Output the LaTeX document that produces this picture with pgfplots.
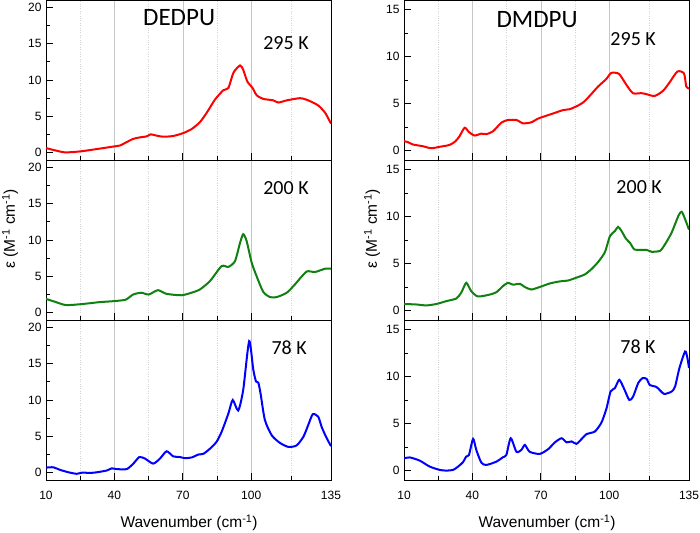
\documentclass[border=0pt]{standalone}
\usepackage{fontspec}
\setmainfont{Liberation Sans}
\newfontfamily\calfont{Carlito}
\usepackage{pgfplots}
\pgfplotsset{compat=1.18}
\definecolor{cred}{RGB}{255,0,0}
\definecolor{cgreen}{RGB}{16,128,16}
\definecolor{cblue}{RGB}{0,0,255}
\tikzset{
  temp/.style={font=\calfont\fontsize{20}{22}\selectfont},
  ttl/.style={font=\calfont\fontsize{25}{28}\selectfont},
}
\pgfplotsset{
  panel/.style={
    scale only axis, width=285pt, height=160pt, anchor=south west,
    xmin=10, xmax=135,
    xtick={10,40,70,100,135},
    minor xtick={25,55,85,117.5},
    xmajorgrids, xminorgrids,
    major grid style={gray!45, line width=0.6pt},
    minor grid style={gray!35, dotted, line width=0.6pt},
    tick align=inside,
    xtick pos=left, ytick pos=left,
    major tick length=7pt, minor tick length=4pt,
    tick style={black, line width=0.7pt},
    axis line style={line width=0.8pt},
    ymin=-1,
    /pgf/number format/assume math mode=true,
    tick label style={font=\fontsize{12}{14}\selectfont},
    xticklabel style={yshift=-8pt},
    yticklabel style={xshift=-1pt},
    label style={font=\fontsize{15.5}{17}\selectfont},
    xlabel style={at={(axis description cs:0.502,-0.27)}, anchor=center},
    every axis plot/.append style={line width=2pt, smooth, tension=0.4},
  },
  L/.style={panel, ymax=21, ytick={0,5,10,15,20}, minor ytick={2.5,7.5,12.5,17.5}},
  R/.style={panel, ymax=16, ytick={0,5,10,15}, minor ytick={2.5,7.5,12.5}},
}
\begin{document}
\begin{tikzpicture}
\useasboundingbox (0pt,0pt) rectangle (700pt,532pt);
% ---------------- DEDPU 295 K
\begin{axis}[L, at={(46pt,372pt)}, xticklabels={}]
\addplot[cred] coordinates {
(10,0.65)(13,0.4)(18.3,0.05)(25,0.18)(32.2,0.5)(40,0.87)(42.5,1.0)(45,1.4)(48.2,1.9)(51,2.1)(54.2,2.25)(55.9,2.53)(58.5,2.35)(61.4,2.2)(65.8,2.3)(70.2,2.7)(73.9,3.26)(77.5,4.2)(80.5,5.5)(84.1,7.3)(87.8,8.6)(90,8.9)(92.2,11)(95.1,12.0)(96.5,11.4)(98.3,9.8)(100.6,8.9)(102.4,7.9)(105.3,7.4)(109.7,7.2)(111.9,6.9)(115.6,7.2)(121.4,7.5)(125,7.2)(129.4,6.5)(132.4,5.5)(134,4.6)(135,4.0)};
\node[ttl] at (axis description cs:0.467,0.8875) {DEDPU};
\node[temp] at (axis description cs:0.842,0.731) {295 K};
\end{axis}
% ---------------- DEDPU 200 K
\begin{axis}[L, at={(46pt,212pt)}, xticklabels={}, ylabel={ε (M\textsuperscript{-1} cm\textsuperscript{-1})},
  ylabel style={at={(axis description cs:-0.126,0.57)}, anchor=center, rotate=0}]
\addplot[cgreen] coordinates {
(10,1.9)(14,1.5)(18.8,1.05)(26.1,1.2)(33.3,1.45)(40,1.6)(45,1.8)(48.2,2.5)(51.8,2.75)(55,2.5)(59.1,3.1)(62.8,2.6)(69.4,2.4)(73.8,2.75)(77.5,3.2)(81.9,4.35)(87,6.4)(90,6.3)(92.9,7.1)(95.1,9.6)(96.5,10.8)(98,9.85)(100.2,6.9)(102.4,5.0)(105.3,2.85)(108.3,2.15)(111.2,2.15)(115.6,2.75)(119.2,3.9)(122.2,5.0)(124.6,5.7)(128,5.6)(132.4,6.05)(135,6.05)};
\node[temp] at (axis description cs:0.842,0.825) {200 K};
\end{axis}
% ---------------- DEDPU 78 K
\begin{axis}[L, at={(46pt,52pt)}, xlabel={Wavenumber (cm\textsuperscript{-1})}]
\addplot[cblue] coordinates {
(10,0.7)(13.2,0.75)(16.1,0.4)(20,0.05)(23.5,-0.15)(25.7,0)(30.8,0.0)(36.6,0.3)(38.8,0.6)(41,0.5)(45.4,0.5)(48.3,1.25)(50.9,2.15)(53.4,1.95)(57,1.25)(60,1.95)(62.9,2.95)(65.8,2.25)(68.8,2.15)(71,2.0)(73.9,2.1)(76.8,2.5)(79,2.6)(81.9,3.3)(84.8,4.25)(87,5.6)(90,8.15)(91.9,10.0)(94.3,8.55)(96.5,11.4)(99.1,18.1)(100.9,14.2)(102.1,12.55)(103.1,12.4)(104.1,10.9)(106,7.25)(109,5.15)(112.6,4.1)(116.3,3.55)(119.9,3.75)(122.9,4.95)(125,6.55)(127,8.05)(129.4,7.7)(130.9,6.3)(132.8,4.95)(135,3.65)};
\node[temp] at (axis description cs:0.853,0.825) {78 K};
\end{axis}
% ---------------- DMDPU 295 K
\begin{axis}[R, at={(404pt,372pt)}, xticklabels={}]
\addplot[cred] coordinates {
(10,1.0)(11.7,0.9)(13.9,0.65)(18.3,0.46)(21.9,0.25)(25.6,0.4)(30,0.6)(32.6,1.0)(34.4,1.55)(36.6,2.43)(38.5,1.96)(41,1.6)(43.9,1.8)(46.1,1.75)(49,2.04)(52.7,2.97)(55.6,3.25)(59.3,3.25)(62.2,2.9)(65.8,3.0)(68.8,3.4)(72.4,3.7)(76.1,4.0)(79.7,4.3)(82.7,4.4)(85.6,4.7)(88.5,5.1)(91.4,5.8)(95.1,6.8)(98.7,7.6)(100.9,8.25)(104.3,8.15)(107.5,7.0)(110.4,6.1)(114.1,6.1)(116.3,6.0)(119.9,5.8)(123.6,6.35)(126.5,7.25)(129.9,8.4)(132.8,8.2)(133.8,6.8)(135,6.6)};
\node[ttl] at (axis description cs:0.467,0.88) {DMDPU};
\node[temp] at (axis description cs:0.804,0.756) {295 K};
\end{axis}
% ---------------- DMDPU 200 K
\begin{axis}[R, at={(404pt,212pt)}, xticklabels={}, ylabel={ε (M\textsuperscript{-1} cm\textsuperscript{-1})},
  ylabel style={at={(axis description cs:-0.112,0.57)}, anchor=center, rotate=0}]
\addplot[cgreen] coordinates {
(10,0.7)(15.4,0.65)(19.8,0.55)(24.2,0.7)(28.5,1.0)(32.9,1.28)(35.1,1.9)(37.3,2.95)(39.5,2.06)(42.4,1.5)(47.6,1.7)(50.5,1.95)(53.4,2.6)(55.6,2.95)(57.8,2.75)(60.8,2.85)(63,2.5)(65.8,2.24)(69.5,2.5)(73.9,2.88)(78.3,3.1)(82,3.2)(85.6,3.5)(89.3,3.84)(92.2,4.4)(95.1,5.15)(98.1,6.2)(100.3,7.9)(102.5,8.46)(103.9,8.9)(105.4,8.46)(107.3,7.65)(109.1,7.2)(111,6.5)(113.5,6.45)(116.4,6.45)(118.6,6.25)(122.3,6.35)(124.5,7.05)(127.4,8.3)(130.4,10.1)(131.8,10.5)(133.3,9.7)(135,8.6)};
\node[temp] at (axis description cs:0.825,0.83) {200 K};
\end{axis}
% ---------------- DMDPU 78 K
\begin{axis}[R, at={(404pt,52pt)}, xlabel={Wavenumber (cm\textsuperscript{-1})}]
\addplot[cblue] coordinates {
(10,1.3)(12.5,1.4)(16.9,1.06)(21.3,0.42)(25.7,0.07)(28.6,0)(31.5,0.07)(33.7,0.42)(35.9,0.9)(37.3,1.5)(38.5,1.67)(40.3,3.37)(41.7,2.2)(43.9,0.85)(46.1,0.6)(50.5,0.95)(53.4,1.42)(54.9,1.67)(56.8,3.44)(59.3,2.0)(61.5,2.2)(63,2.73)(65.1,2.0)(69.5,1.77)(73.2,2.27)(76.1,2.98)(79.1,3.44)(81.3,3.0)(83.5,3.1)(85.6,2.84)(87.8,3.33)(90,3.87)(93.7,4.15)(96.6,5.1)(98.8,6.6)(100.6,8.4)(102.5,8.76)(104.4,9.65)(106.4,8.76)(108.8,7.5)(110.5,7.87)(112.7,9.3)(114.6,9.82)(116.4,9.75)(117.8,9.1)(120.8,8.87)(124,8.16)(127.4,8.4)(128.9,8.94)(130.8,10.9)(133.3,12.66)(134.3,11.95)(135,10.9)};
\node[temp] at (axis description cs:0.821,0.83) {78 K};
\end{axis}
\end{tikzpicture}
\end{document}
